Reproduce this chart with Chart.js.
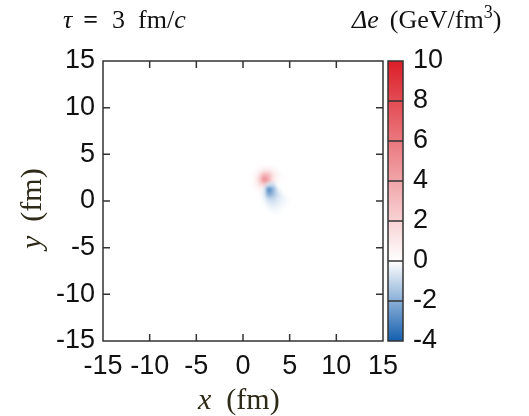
<!DOCTYPE html>
<html>
<head>
<meta charset="utf-8">
<script src="https://cdn.jsdelivr.net/npm/chart.js@4.4.0/dist/chart.umd.min.js"></script>
<style>
  html, body { margin: 0; padding: 0; background: #fff; }
  #wrap { width: 529px; height: 416px; position: relative; }
</style>
</head>
<body>
<div id="wrap"><canvas id="deChart"></canvas></div>
<script>
// tick values (fm) and colour bar ticks (GeV/fm^3)
const xTicks = [-15, -10, -5, 0, 5, 10, 15];
const yTicks = [-15, -10, -5, 0, 5, 10, 15];
const cbTicks = [-4, -2, 0, 2, 4, 6, 8, 10];

// heat map cells, 0.5 fm wide; left edges / top edges in fm
const cellX = [0.5, 1.0, 1.5, 2.0, 2.5, 3.0, 3.5, 4.0, 4.5, 5.0];
const cellY = [4.0, 3.5, 3.0, 2.5, 2.0, 1.5, 1.0, 0.5, 0.0, -0.5, -1.0];
const cellSize = 0.5;
// delta e per cell, rows top -> bottom
const deltaE = [
  [0, 0, 0.1, 0.2, 0.2, 0.1, 0, 0, 0, 0],
  [0, 0.1, 0.5, 1.2, 1.2, 0.6, 0.2, 0, 0, 0],
  [0, 0.3, 1.5, 3.5, 3.0, 1.2, 0.4, 0.1, 0, 0],
  [0, 0.4, 2.0, 5.0, 3.5, 1.0, 0.3, 0.1, 0, 0],
  [0, 0.3, 1.2, 2.0, -0.8, -0.8, 0, 0, 0, 0],
  [0, 0.1, 0.4, -0.5, -2.8, -1.8, -0.4, 0, 0, 0],
  [0, 0, 0.1, -0.5, -2.2, -1.6, -0.7, -0.2, 0, 0],
  [0, 0, 0, -0.3, -1.0, -1.0, -0.6, -0.3, -0.1, 0],
  [0, 0, 0, -0.1, -0.5, -0.6, -0.4, -0.2, -0.1, 0],
  [0, 0, 0, 0, -0.2, -0.3, -0.2, -0.1, 0, 0],
  [0, 0, 0, 0, 0, -0.1, -0.1, 0, 0, 0],
];

const blueEnd = [20, 95, 175];
const redEnd = [220, 30, 40];
const frameColor = "#333";
const tickFont = { family: "'Liberation Sans', Arial, sans-serif", size: 27 };
const serif = "'Liberation Serif', 'Times New Roman', serif";

function deColor(v) {
  const end = v < 0 ? blueEnd : redEnd;
  const t = Math.min(1, v < 0 ? -v / 4 : v / 10);
  return end.map((c) => Math.round(255 + (c - 255) * t));
}

// draws the delta e cells, smoothed like the original bitmap
const heatmap = {
  id: "heatmap",
  beforeDatasetsDraw(chart) {
    const { ctx, scales } = chart;
    const rows = deltaE.length, cols = deltaE[0].length;
    const off = document.createElement("canvas");
    off.width = cols;
    off.height = rows;
    const octx = off.getContext("2d");
    const img = octx.createImageData(cols, rows);
    deltaE.forEach((row, r) =>
      row.forEach((v, c) => {
        const [R, G, B] = deColor(v);
        const i = (r * cols + c) * 4;
        img.data[i] = R; img.data[i + 1] = G; img.data[i + 2] = B; img.data[i + 3] = 255;
      })
    );
    octx.putImageData(img, 0, 0);
    const x0 = scales.x.getPixelForValue(cellX[0]);
    const x1 = scales.x.getPixelForValue(cellX[cols - 1] + cellSize);
    const y0 = scales.y.getPixelForValue(cellY[0]);
    const y1 = scales.y.getPixelForValue(cellY[rows - 1] - cellSize);
    ctx.save();
    ctx.imageSmoothingEnabled = true;
    ctx.imageSmoothingQuality = "high";
    ctx.drawImage(off, x0, y0, x1 - x0, y1 - y0);
    ctx.restore();
  },
};

// frame with inward ticks on all sides + colour bar
const frame = {
  id: "frame",
  afterDraw(chart) {
    const { ctx, chartArea: a, scales } = chart;
    ctx.save();
    ctx.strokeStyle = frameColor;
    ctx.lineWidth = 1.5;
    ctx.strokeRect(a.left, a.top, a.right - a.left, a.bottom - a.top);
    const len = 7;
    ctx.beginPath();
    xTicks.slice(1, -1).forEach((v) => {
      const px = scales.x.getPixelForValue(v);
      ctx.moveTo(px, a.bottom); ctx.lineTo(px, a.bottom - len);
      ctx.moveTo(px, a.top); ctx.lineTo(px, a.top + len);
    });
    yTicks.slice(1, -1).forEach((v) => {
      const py = scales.y.getPixelForValue(v);
      ctx.moveTo(a.left, py); ctx.lineTo(a.left + len, py);
      ctx.moveTo(a.right, py); ctx.lineTo(a.right - len, py);
    });
    ctx.stroke();

    // colour bar
    const cb = scales.cb;
    const bx = a.right + 5, bw = 15;
    const top = cb.getPixelForValue(10), bot = cb.getPixelForValue(-4);
    const g = ctx.createLinearGradient(0, bot, 0, top);
    g.addColorStop(0, `rgb(${blueEnd})`);
    g.addColorStop(4 / 14, "rgb(255,255,255)");
    g.addColorStop(1, `rgb(${redEnd})`);
    ctx.fillStyle = g;
    ctx.fillRect(bx, top, bw, bot - top);
    ctx.strokeRect(bx, top, bw, bot - top);
    ctx.beginPath();
    cbTicks.slice(1, -1).forEach((v) => {
      const py = cb.getPixelForValue(v);
      ctx.moveTo(bx, py); ctx.lineTo(bx + bw, py);
    });
    ctx.stroke();
    ctx.restore();
  },
};

function drawRuns(ctx, x, y, runs) {
  runs.forEach((r) => {
    ctx.font = r.font;
    ctx.fillText(r.text, x + (r.dx || 0), y + (r.dy || 0));
    x += (r.dx || 0) + ctx.measureText(r.text).width;
  });
}

// titles and axis names
const labels = {
  id: "labels",
  afterDraw(chart) {
    const { ctx } = chart;
    const up = `26px ${serif}`, it = `italic 26px ${serif}`;
    const big = `30px ${serif}`, bigIt = `italic 30px ${serif}`;
    ctx.save();
    ctx.fillStyle = "#111";
    ctx.textBaseline = "alphabetic";
    drawRuns(ctx, 63, 28, [
      { text: "τ", font: it },
      { text: "=", font: `bold 26px ${serif}`, dx: 11 },
      { text: "3", font: up, dx: 14 },
      { text: "fm/", font: up, dx: 13 },
      { text: "c", font: it },
    ]);
    drawRuns(ctx, 352, 28, [
      { text: "Δe", font: it },
      { text: "(GeV/fm", font: up, dx: 11 },
      { text: "3", font: `18px ${serif}`, dy: -10 },
      { text: ")", font: up },
    ]);
    ctx.fillStyle = "#2e2a18";
    drawRuns(ctx, 198, 409, [
      { text: "x", font: bigIt },
      { text: "(fm)", font: big, dx: 15 },
    ]);
    ctx.translate(41, 249);
    ctx.rotate(-Math.PI / 2);
    drawRuns(ctx, 0, 0, [
      { text: "y", font: bigIt },
      { text: "(fm)", font: big, dx: 14 },
    ]);
    ctx.restore();
  },
};

const tickOpts = (padding) => ({
  font: tickFont,
  color: "#111",
  padding,
  autoSkip: false,
  maxRotation: 0,
});

new Chart(document.getElementById("deChart").getContext("2d"), {
  type: "scatter",
  data: { datasets: [{ data: [], pointRadius: 0 }] },
  options: {
    responsive: true,
    maintainAspectRatio: false,
    animation: false,
    layout: { padding: { top: 61 } },
    plugins: { legend: { display: false }, tooltip: { enabled: false } },
    scales: {
      x: {
        type: "linear",
        min: -15,
        max: 15,
        afterBuildTicks: (s) => { s.ticks = xTicks.map((v) => ({ value: v })); },
        afterFit: (s) => { s.height = 75; },
        grid: { display: false, drawTicks: false },
        border: { display: false },
        ticks: tickOpts(9),
      },
      y: {
        type: "linear",
        position: "left",
        min: -15,
        max: 15,
        afterBuildTicks: (s) => { s.ticks = yTicks.map((v) => ({ value: v })); },
        afterFit: (s) => { s.width = 103; },
        grid: { display: false, drawTicks: false },
        border: { display: false },
        ticks: tickOpts(8),
      },
      cb: {
        type: "linear",
        position: "right",
        min: -4,
        max: 10,
        afterBuildTicks: (s) => { s.ticks = cbTicks.map((v) => ({ value: v })); },
        afterFit: (s) => { s.width = 146; },
        grid: { display: false, drawTicks: false },
        border: { display: false },
        ticks: tickOpts(30),
      },
    },
  },
  plugins: [heatmap, frame, labels],
});
</script>
</body>
</html>
